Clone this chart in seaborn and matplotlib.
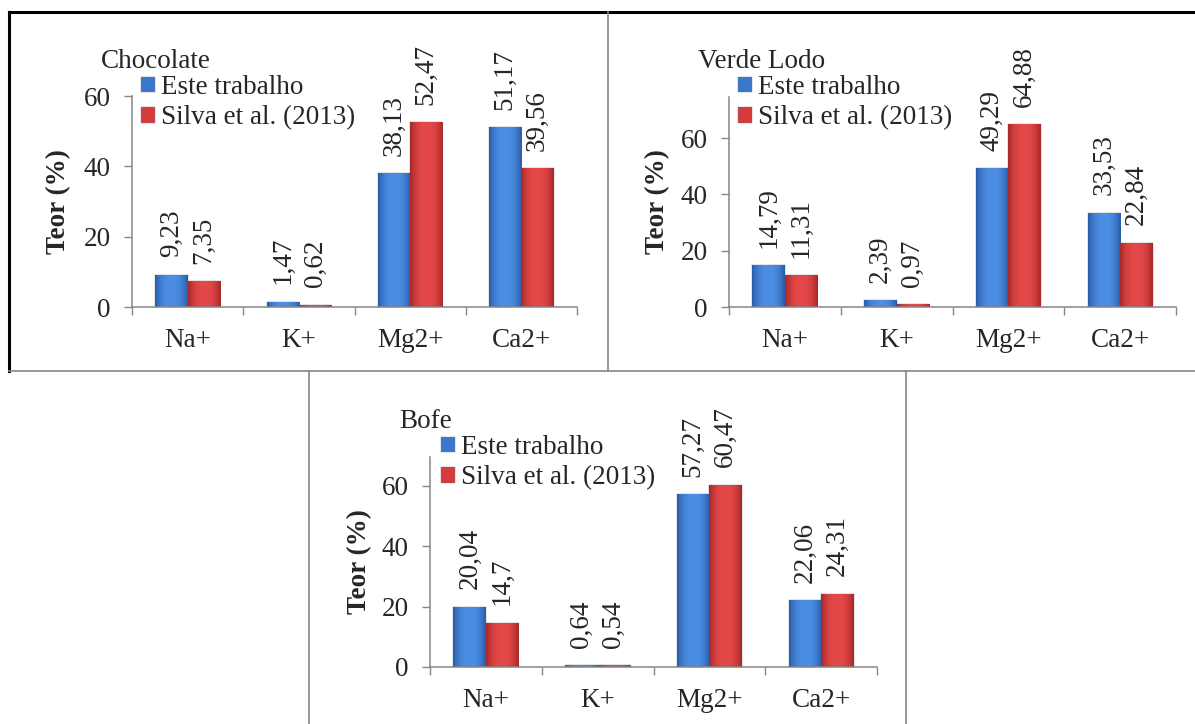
import numpy as np
import pandas as pd
import matplotlib
matplotlib.use("Agg")
import matplotlib.pyplot as plt
from matplotlib.lines import Line2D
from matplotlib.colors import LinearSegmentedColormap
import seaborn as sns

# Data
ions = ["Na+", "K+", "Mg2+", "Ca2+"]
series_names = ["Este trabalho", "Silva et al. (2013)"]

chocolate_este = [9.23, 1.47, 38.13, 51.17]
chocolate_silva = [7.35, 0.62, 52.47, 39.56]

verde_este = [14.79, 2.39, 49.29, 33.53]
verde_silva = [11.31, 0.97, 64.88, 22.84]

bofe_este = [20.04, 0.64, 57.27, 22.06]
bofe_silva = [14.7, 0.54, 60.47, 24.31]

y_ticks = [0, 20, 40, 60]

sns.set_theme(style="white")
plt.rcParams["font.family"] = ["Liberation Serif", "DejaVu Serif"]

W, H = 1195, 724
FS = 19.5
GRAY = "#868686"
colors = ["#3A78D0", "#D63A3A"]
# dark edge -> light centre -> dark edge, to mimic the Excel bevel
shades = [("#2A5BA8", "#4B8EE3"), ("#A52828", "#E44848")]

fig = plt.figure(figsize=(W / 100, H / 100), dpi=100)


def px_axes(l, t, r, b):
    return fig.add_axes([l / W, 1 - b / H, (r - l) / W, (b - t) / H])


def fig_line(x0, y0, x1, y1, color, lw):
    fig.add_artist(Line2D([x0 / W, x1 / W], [1 - y0 / H, 1 - y1 / H],
                          color=color, lw=lw, solid_capstyle="projecting"))


xs = np.linspace(0, 1, 64)
profile = 1 - np.abs(2 * xs - 1) ** 2.5


def shade_bars(ax, container, dark, light):
    cmap = LinearSegmentedColormap.from_list("bar", [dark, light])
    for patch in container.patches:
        x0, y0 = patch.get_x(), patch.get_y()
        w, h = patch.get_width(), patch.get_height()
        im = ax.imshow(profile[np.newaxis, :], cmap=cmap, vmin=0, vmax=1,
                       extent=(x0, x0 + w, y0, y0 + h), aspect="auto",
                       interpolation="bilinear", zorder=patch.get_zorder() + 0.1)
        im.set_clip_path(patch)


def draw_panel(ax, title, este, silva, ymax, title_xy, legend_xy, ylabel_x):
    df = pd.DataFrame({
        "ion": ions * 2,
        "teor": este + silva,
        "fonte": [series_names[0]] * 4 + [series_names[1]] * 4,
    })
    sns.barplot(data=df, x="ion", y="teor", hue="fonte", palette=colors,
                saturation=1, width=0.58, ax=ax, edgecolor="#7a7a7a",
                linewidth=0.3, errorbar=None)

    for cont, (dark, light) in zip(ax.containers, shades):
        shade_bars(ax, cont, dark, light)
        labels = [str(v).replace(".", ",") for v in cont.datavalues]
        ax.bar_label(cont, labels=labels, rotation=90, padding=12.5,
                     fontsize=FS)

    ax.set_xlim(-0.5, 3.5)
    ax.set_ylim(0, ymax)
    ax.set_yticks(y_ticks)
    ax.set_xticks(range(4))
    ax.set_xticklabels(ions)
    ax.set_xticks(np.arange(-0.5, 4, 1), minor=True)
    ax.tick_params(axis="x", which="major", length=0, pad=15, labelsize=FS)
    ax.tick_params(axis="x", which="minor", length=5.5, width=1, color=GRAY,
                   direction="out", bottom=True)
    ax.tick_params(axis="y", length=5.5, width=1, color=GRAY, pad=10,
                   labelsize=FS, left=True, direction="out")
    ax.set_xlabel("")
    ax.set_ylabel("Teor (%)", fontsize=FS, fontweight="bold")
    ax.yaxis.set_label_coords(ylabel_x, 0.5)

    for side in ["top", "right"]:
        ax.spines[side].set_visible(False)
    for side in ["left", "bottom"]:
        ax.spines[side].set_color(GRAY)
        ax.spines[side].set_linewidth(1.1)

    handles, labs = ax.get_legend_handles_labels()
    ax.legend(handles, labs, loc="upper left",
              bbox_to_anchor=(legend_xy[0] / W, 1 - legend_xy[1] / H),
              bbox_transform=fig.transFigure, frameon=False, borderpad=0,
              borderaxespad=0, handlelength=0.5, handleheight=0.5,
              handletextpad=0.25, labelspacing=0.2, fontsize=FS)

    fig.text(title_xy[0] / W, 1 - title_xy[1] / H, title, ha="left",
             va="baseline", fontsize=FS)


ax1 = px_axes(132, 96, 577, 307)
draw_panel(ax1, "Chocolate", chocolate_este, chocolate_silva, 60,
           (101, 68), (141, 75), -0.137)

ax2 = px_axes(729, 97, 1176, 307)
draw_panel(ax2, "Verde Lodo", verde_este, verde_silva, 74.6,
           (698, 68), (738, 75), -0.132)

ax3 = px_axes(430, 457, 877, 667)
draw_panel(ax3, "Bofe", bofe_este, bofe_silva, 69.6,
           (399, 428), (441, 435), -0.13)

# frames around panels
fig_line(9, 12, 1200, 12, "black", 2.2)
fig_line(9, 12, 9, 371, "black", 2.2)
fig_line(9, 371, 1200, 371, GRAY, 1.2)
fig_line(608, 12, 608, 371, GRAY, 1.2)
fig_line(309, 371, 309, 730, GRAY, 1.2)
fig_line(906, 371, 906, 730, GRAY, 1.2)

fig.savefig("out.png", dpi=100, facecolor="white")
